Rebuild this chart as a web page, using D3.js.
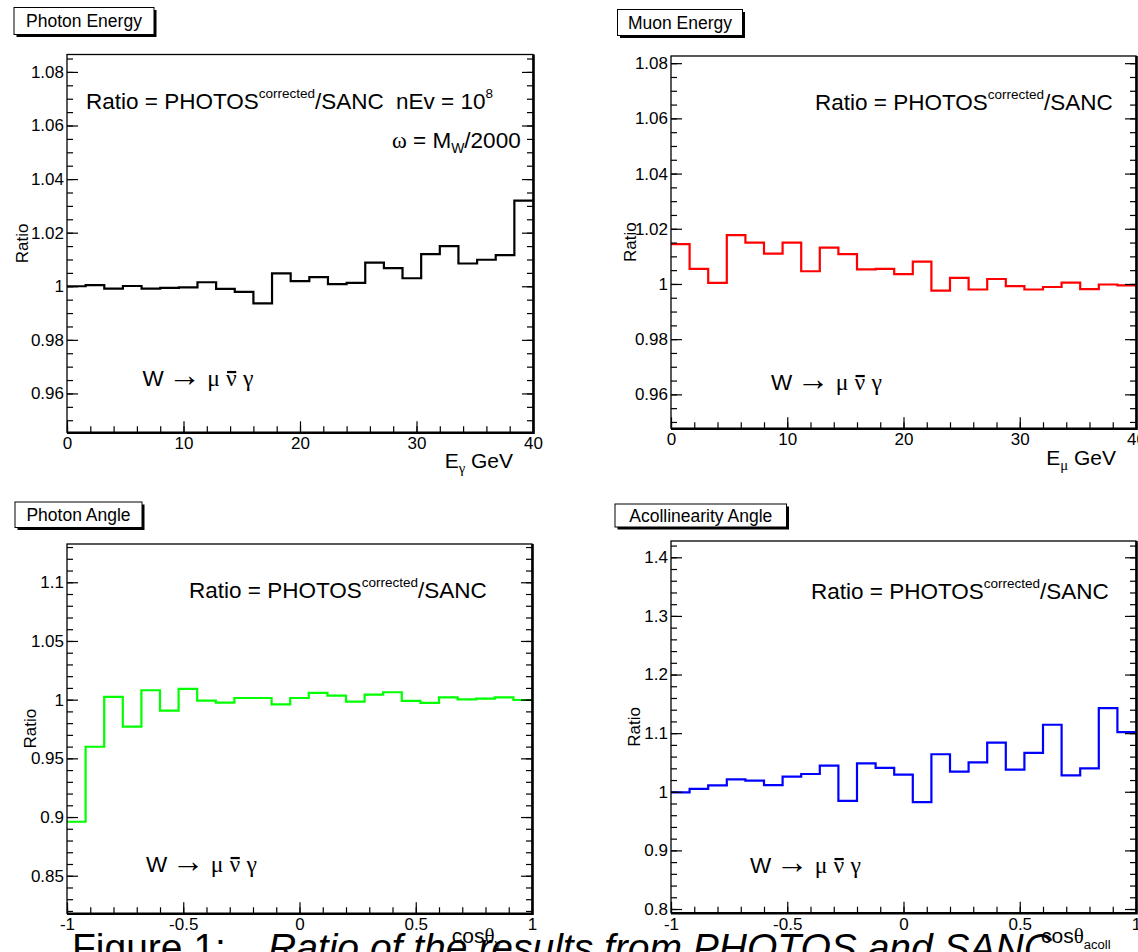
<!DOCTYPE html>
<html>
<head>
<meta charset="utf-8">
<script src="https://cdn.jsdelivr.net/npm/d3@7"></script>
<style>
  body { margin: 0; background: #fff; }
  svg { display: block; font-family: "Liberation Sans", Arial, Helvetica, sans-serif; }
  text { white-space: pre; }
</style>
</head>
<body>
<svg id="fig" width="1138" height="952"></svg>
<script>
// ---- data: PHOTOS(corrected)/SANC ratios, 25 bins per histogram ----
const energyRange = [0, 40];       // GeV, 25 bins of 1.6 GeV
const angleRange = [-1, 1];        // cos(theta), 25 bins of 0.08
const nBins = 25;

const photonEnergyRatio = [1.0000, 1.0004, 0.9991, 1.0001, 0.9991, 0.9994, 0.9996, 1.0015, 0.9990, 0.9979,
                           0.9936, 1.0048, 1.0019, 1.0034, 1.0008, 1.0013, 1.0088, 1.0068, 1.0030, 1.0120,
                           1.0150, 1.0085, 1.0099, 1.0116, 1.0320];
const muonEnergyRatio = [1.0144, 1.0055, 1.0004, 1.0177, 1.0150, 1.0110, 1.0150, 1.0046, 1.0132, 1.0108,
                         1.0053, 1.0055, 1.0036, 1.0081, 0.9976, 1.0022, 0.9980, 1.0018, 0.9992, 0.9980,
                         0.9989, 1.0005, 0.9981, 0.9998, 0.9995];
const photonAngleRatio = [0.8960, 0.9599, 1.0023, 0.9771, 1.0080, 0.9906, 1.0091, 0.9991, 0.9974, 1.0014,
                          1.0014, 0.9960, 1.0014, 1.0057, 1.0034, 0.9983, 1.0043, 1.0063, 0.9989, 0.9972,
                          1.0020, 1.0003, 1.0009, 1.0020, 0.9997];
const acollAngleRatio = [0.9990, 1.0051, 1.0109, 1.0211, 1.0189, 1.0114, 1.0257, 1.0303, 1.0446, 0.9846,
                         1.0486, 1.0406, 1.0291, 0.9823, 1.0640, 1.0343, 1.0503, 1.0840, 1.0377, 1.0663,
                         1.1143, 1.0280, 1.0400, 1.1427, 1.1017];

// ---- tick labels ----
const energyTicks = [0, 10, 20, 30, 40];
const angleTicks = [-1, -0.5, 0, 0.5, 1];
const energyRatioTicks = [0.96, 0.98, 1, 1.02, 1.04, 1.06, 1.08];
const photonAngleRatioTicks = [0.85, 0.9, 0.95, 1, 1.05, 1.1];
const acollRatioTicks = [0.8, 0.9, 1, 1.1, 1.2, 1.3, 1.4];

// ---- fonts ----
const SANS = '"Liberation Sans", Arial, Helvetica, sans-serif';
const SYM = '"Liberation Serif", "DejaVu Serif", "Times New Roman", serif';

const svg = d3.select("#fig");

// text built from pieces: {t, font, scale, shift, italic}; shifts use relative dy
function richText(parent, x, y, parts, size, anchor) {
  const t = parent.append("text")
    .attr("x", x).attr("y", y)
    .attr("font-size", size)
    .attr("font-family", SANS)
    .attr("text-anchor", anchor || "start")
    .attr("fill", "#000");
  let cur = 0;
  parts.forEach(p => {
    const shift = p.shift || 0;
    const s = t.append("tspan").text(p.t);
    if (shift !== cur) { s.attr("dy", shift - cur); cur = shift; }
    if (p.scale) s.attr("font-size", size * p.scale);
    if (p.font) s.attr("font-family", p.font);
    if (p.italic) s.attr("font-style", "italic");
  });
  return t;
}

const ratioFormula = size => [
  { t: "Ratio = PHOTOS" },
  { t: "corrected", scale: 0.6, shift: -0.5 * size },
  { t: "/SANC" }
];

// W -> mu nubar gamma, with the bar over the neutrino drawn as a line
function decayLabel(parent, x, y, size) {
  const parts = [
    { t: "W\u2009" }, { t: "\u2192", font: SYM, scale: 1.45 }, { t: " " }, { t: "\u03bc", font: SYM, scale: 1.05 },
    { t: " " }, { t: "\u03bd", font: SYM, scale: 1.05 }, { t: " " }, { t: "\u03b3", font: SYM, scale: 1.05 }
  ];
  const t = richText(parent, x, y, parts, size);
  const full = parts.map(p => p.t).join("");
  const idx = full.indexOf("\u03bd");
  const node = t.node();
  const x0 = node.getStartPositionOfChar(idx).x;
  const x1 = node.getEndPositionOfChar(idx).x;
  parent.append("line")
    .attr("x1", x0 + 1).attr("x2", x1 - 0.5)
    .attr("y1", y - 0.62 * size).attr("y2", y - 0.62 * size)
    .attr("stroke", "#000").attr("stroke-width", 2.2);
}

const fmt = d => String(+d.toFixed(3));
const minorValues = (domain, step) => {
  const lo = Math.ceil(domain[0] / step - 1e-9), hi = Math.floor(domain[1] / step + 1e-9);
  return d3.range(lo, hi + 1).map(k => +(k * step).toFixed(6));
};

// ---- caption (drawn first, partly below the page edge) ----
richText(svg, 72, 961, [{ t: "Figure 1:" }], 39);
richText(svg, 268, 961, [{ t: "Ratio of the results from PHOTOS and SANC", italic: true }], 39);

// ---- panel layout ----
const panels = [
  {
    title: "Photon Energy", box: [14, 7.5, 140, 27],
    frame: { l: 67, t: 54.5, r: 533, b: 432.3 },
    xRange: energyRange, xTicks: energyTicks, xMinor: 2,
    yDomain: [0.9455, 1.0865], yTicks: energyRatioTicks, yMinor: 0.005,
    values: photonEnergyRatio, color: "#000000",
    yTitleX: 22,
    formula: { x: 86, y: 109 },
    decay: { x: 142.5, y: 386 },
    xTitle: { x: 513, y: 468, anchor: "end",
              parts: [{ t: "E" }, { t: "\u03b3", font: SYM, scale: 0.7, shift: 5 }, { t: " GeV" }] },
    extra: g => {
      richText(g, 396, 109, [{ t: "nEv = 10" }, { t: "8", scale: 0.6, shift: -11 }], 22.5);
      richText(g, 392, 148, [{ t: "\u03c9", font: SYM }, { t: " = M" },
                             { t: "W", scale: 0.62, shift: 5 }, { t: "/2000" }], 22.5);
    }
  },
  {
    title: "Muon Energy", box: [617.5, 9.5, 125, 26],
    frame: { l: 671, t: 56, r: 1136, b: 428.3 },
    xRange: energyRange, xTicks: energyTicks, xMinor: 2,
    yDomain: [0.9477, 1.0826], yTicks: energyRatioTicks, yMinor: 0.005,
    values: muonEnergyRatio, color: "#ff0000",
    yTitleX: 630,
    formula: { x: 815, y: 110 },
    decay: { x: 771, y: 390 },
    xTitle: { x: 1116, y: 465, anchor: "end",
              parts: [{ t: "E" }, { t: "\u03bc", font: SYM, scale: 0.7, shift: 5 }, { t: " GeV" }] }
  },
  {
    title: "Photon Angle", box: [15, 502, 127, 25.5],
    frame: { l: 67, t: 544, r: 532, b: 913.3 },
    xRange: angleRange, xTicks: angleTicks, xMinor: 0.1,
    yDomain: [0.818, 1.1326], yTicks: photonAngleRatioTicks, yMinor: 0.01,
    values: photonAngleRatio, color: "#00ff00",
    yTitleX: 30,
    formula: { x: 189, y: 598 },
    decay: { x: 146, y: 872 },
    xTitle: { x: 501, y: 943, anchor: "end",
              parts: [{ t: "cos" }, { t: "\u03b8", font: SYM }, { t: "\u03b3", font: SYM, scale: 0.7, shift: 5 }] }
  },
  {
    title: "Acollinearity Angle", box: [615, 504, 171.5, 23],
    frame: { l: 671, t: 541, r: 1136, b: 912.7 },
    xRange: angleRange, xTicks: angleTicks, xMinor: 0.1,
    yDomain: [0.7937, 1.4278], yTicks: acollRatioTicks, yMinor: 0.02,
    values: acollAngleRatio, color: "#0000ff",
    yTitleX: 634,
    formula: { x: 811, y: 599 },
    decay: { x: 750, y: 873 },
    xTitle: { x: 1041, y: 943, anchor: "start",
              parts: [{ t: "cos" }, { t: "\u03b8", font: SYM }, { t: "acoll", scale: 0.62, shift: 6 }] }
  }
];

panels.forEach(p => {
  const g = svg.append("g");
  const f = p.frame;
  const x = d3.scaleLinear().domain(p.xRange).range([f.l, f.r]);
  const y = d3.scaleLinear().domain(p.yDomain).range([f.b, f.t]);

  // title box with drop shadow
  const [bx, by, bw, bh] = p.box;
  g.append("rect").attr("x", bx + 2.5).attr("y", by + 2.5).attr("width", bw).attr("height", bh).attr("fill", "#000");
  g.append("rect").attr("x", bx).attr("y", by).attr("width", bw).attr("height", bh)
    .attr("fill", "#fff").attr("stroke", "#000").attr("stroke-width", 1);
  g.append("text").attr("x", bx + bw / 2).attr("y", by + bh / 2 + 6)
    .attr("text-anchor", "middle").attr("font-size", 17.5).attr("font-family", SANS)
    .text(p.title);

  // histogram as a step line
  const edges = d3.range(nBins + 1).map(i => x.invert(f.l + (f.r - f.l) * i / nBins));
  const pts = edges.map((e, i) => [e, p.values[Math.min(i, nBins - 1)]]);
  const line = d3.line().x(d => x(d[0])).y(d => y(d[1])).curve(d3.curveStepAfter);
  g.append("path").attr("d", line(pts))
    .attr("fill", "none").attr("stroke", p.color).attr("stroke-width", 2.2);

  // axes
  const styleAxis = sel => {
    sel.select(".domain").remove();
    sel.selectAll(".tick line").attr("stroke", "#000").attr("stroke-width", 1.2);
    sel.attr("font-family", SANS).attr("font-size", 17);
    sel.selectAll(".tick text").attr("fill", "#000");
  };
  const yMinor = minorValues(p.yDomain, p.yMinor);
  const xMinor = minorValues(p.xRange, p.xMinor);

  g.append("g").attr("transform", `translate(${f.l},0)`)
    .call(d3.axisLeft(y).tickValues(yMinor).tickSize(-6).tickFormat("")).call(styleAxis);
  g.append("g").attr("transform", `translate(${f.l},0)`)
    .call(d3.axisLeft(y).tickValues(p.yTicks).tickSize(-11).tickPadding(3).tickFormat(fmt)).call(styleAxis);
  g.append("g").attr("transform", `translate(${f.r},0)`)
    .call(d3.axisRight(y).tickValues(yMinor).tickSize(-6).tickFormat("")).call(styleAxis);
  g.append("g").attr("transform", `translate(${f.r},0)`)
    .call(d3.axisRight(y).tickValues(p.yTicks).tickSize(-11).tickFormat("")).call(styleAxis);
  g.append("g").attr("transform", `translate(0,${f.b})`)
    .call(d3.axisBottom(x).tickValues(xMinor).tickSize(-6).tickFormat("")).call(styleAxis);
  g.append("g").attr("transform", `translate(0,${f.b})`)
    .call(d3.axisBottom(x).tickValues(p.xTicks).tickSize(-11).tickPadding(5).tickFormat(fmt)).call(styleAxis);

  // frame
  g.append("rect").attr("x", f.l).attr("y", f.t).attr("width", f.r - f.l).attr("height", f.b - f.t)
    .attr("fill", "none").attr("stroke", "#000").attr("stroke-width", 1.3);
  g.append("path").attr("d", `M${f.l},${f.b + 0.6}H${f.r + 0.6}V${f.t}`)
    .attr("fill", "none").attr("stroke", "#000").attr("stroke-width", 2.4);

  // y title
  g.append("text")
    .attr("transform", `translate(${p.yTitleX + 6},${(f.t + f.b) / 2}) rotate(-90)`)
    .attr("text-anchor", "middle").attr("font-size", 17).attr("font-family", SANS)
    .text("Ratio");

  // x title
  richText(g, p.xTitle.x, p.xTitle.y, p.xTitle.parts, 21, p.xTitle.anchor);

  // annotations
  richText(g, p.formula.x, p.formula.y, ratioFormula(22.5), 22.5);
  decayLabel(g, p.decay.x, p.decay.y, 22.5);
  if (p.extra) p.extra(g);
});
</script>
</body>
</html>
